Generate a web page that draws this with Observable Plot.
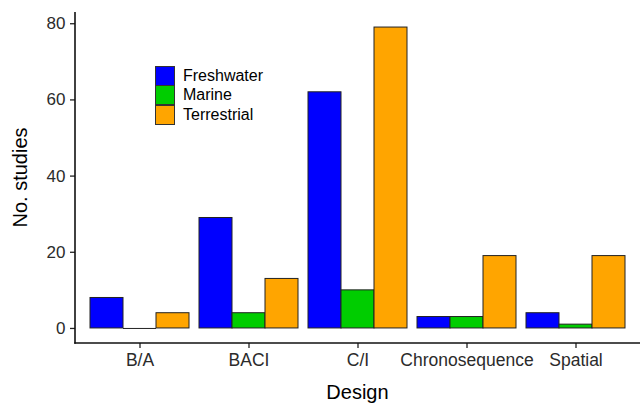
<!DOCTYPE html>
<html>
<head>
<meta charset="utf-8">
<script src="https://cdn.jsdelivr.net/npm/d3@7"></script>
<script src="https://cdn.jsdelivr.net/npm/@observablehq/plot@0.6"></script>
<style>
  html, body { margin: 0; padding: 0; background: white; overflow: hidden; }
  #wrap { position: relative; width: 640px; height: 403px; }
  #legend { position: absolute; left: 155px; top: 66px; font-family: "Liberation Sans", Arial, sans-serif; font-size: 16px; color: #000; }
  .row { display: flex; align-items: center; height: 19.5px; }
  .sw { width: 18px; height: 18px; border: 1px solid #333; box-sizing: content-box; margin-right: 8px; }
</style>
</head>
<body>
<div id="wrap"></div>
<script>
const designs = ["B/A", "BACI", "C/I", "Chronosequence", "Spatial"];
const habitats = ["Freshwater", "Marine", "Terrestrial"];
const freshwater = [8, 29, 62, 3, 4];
const marine = [0, 4, 10, 3, 1];
const terrestrial = [4, 13, 79, 19, 19];
const colors = ["#0000FF", "#00CD00", "#FFA500"];
const yTicks = [0, 20, 40, 60, 80];

const series = [freshwater, marine, terrestrial];
const data = designs.flatMap((d, i) => habitats.map((h, j) => ({design: d, habitat: h, n: series[j][i]})));

const plot = Plot.plot({
  width: 640,
  height: 403,
  marginLeft: 75,
  marginRight: 0,
  marginTop: 12,
  marginBottom: 60,
  style: {fontFamily: "Liberation Sans, Arial, sans-serif", background: "white", color: "#1a1a1a", overflow: "visible"},
  fx: {domain: designs, paddingInner: 0.09, paddingOuter: 0.13, label: null},
  x: {domain: habitats, padding: 0, axis: null},
  y: {domain: [-3.95, 82.95], axis: null},
  color: {domain: habitats, range: colors},
  marks: [
    Plot.barY(data.filter(d => d.n > 0), {fx: "design", x: "habitat", y1: 0, y2: "n", fill: "habitat", stroke: "#222", strokeWidth: 1}),
    Plot.tickY(data.filter(d => d.n === 0), {fx: "design", x: "habitat", y: "n", stroke: "#222", strokeWidth: 1}),
    Plot.axisY({ticks: yTicks, tickSize: 5, tickPadding: 5, label: null, stroke: "#222", strokeWidth: 1.3}),
    Plot.axisFx({anchor: "bottom", tickSize: 5, tickPadding: 5, label: null, stroke: "#222", strokeWidth: 1.3})
  ]
});

document.getElementById("wrap").appendChild(plot);

const svg = d3.select(plot);
const x0 = 75, x1 = 640;

// shift the y axis from the first facet's edge to the panel's left edge
const fx = plot.scale("fx");
const off = fx.apply(designs[0]) - x0;
svg.selectAll("g").each(function() {
  const lab = this.getAttribute("aria-label") || "";
  if (lab.startsWith("y-axis")) {
    const t = this.getAttribute("transform") || "";
    this.setAttribute("transform", `translate(${-off},0) ${t}`);
  }
});

const yLabels = yTicks.map(String);
svg.selectAll("text").each(function() {
  const t = this.textContent;
  if (yLabels.includes(t)) {
    d3.select(this).style("font-size", "17px").style("fill", "#2b2b2b");
  } else if (designs.includes(t)) {
    d3.select(this).style("font-size", "17.5px").style("fill", "#2b2b2b");
  }
});

const y = plot.scale("y");
const yTop = y.apply(y.domain[1]);
const yBot = y.apply(y.domain[0]);
svg.append("line").attr("x1", x0).attr("x2", x0).attr("y1", yTop).attr("y2", yBot + 0.7)
  .attr("stroke", "#111").attr("stroke-width", 1.6);
svg.append("line").attr("x1", x0 - 0.7).attr("x2", x1).attr("y1", yBot).attr("y2", yBot)
  .attr("stroke", "#111").attr("stroke-width", 1.6);
svg.append("text").text("No. studies")
  .attr("transform", `translate(27,${(yTop + yBot) / 2}) rotate(-90)`)
  .attr("text-anchor", "middle").style("font-size", "20px").attr("fill", "#000");
svg.append("text").text("Design")
  .attr("x", (x0 + x1) / 2).attr("y", 399)
  .attr("text-anchor", "middle").style("font-size", "20px").attr("fill", "#000");

const legend = d3.select("#wrap").append("div").attr("id", "legend");
habitats.forEach((h, i) => {
  const row = legend.append("div").attr("class", "row");
  row.append("div").attr("class", "sw").style("background", colors[i]);
  row.append("span").text(h);
});
</script>
</body>
</html>
